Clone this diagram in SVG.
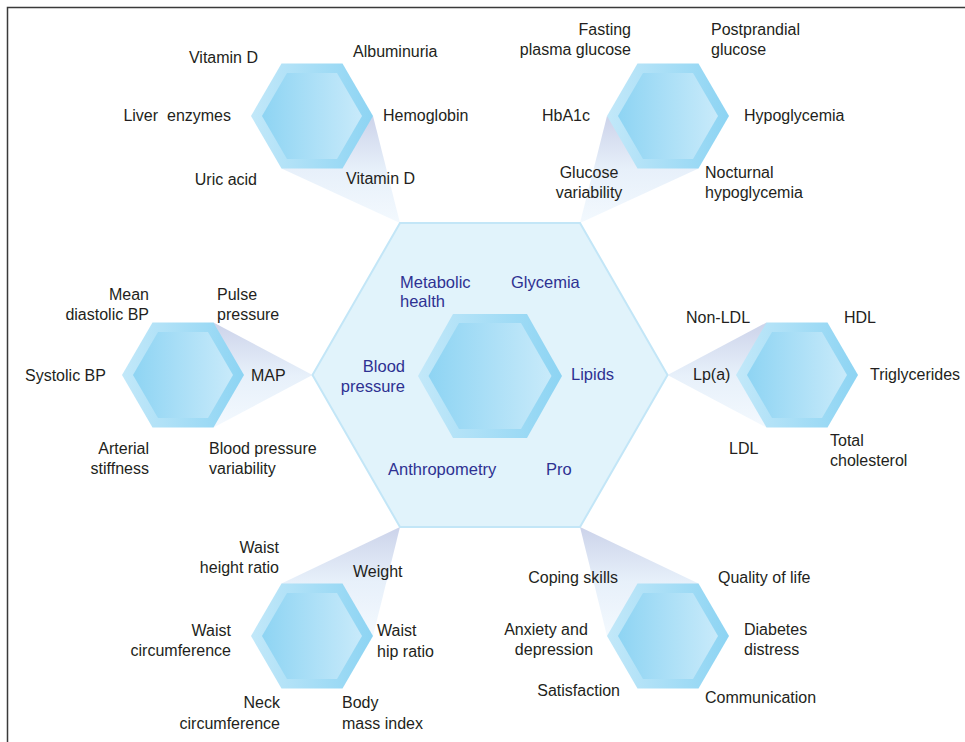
<svg xmlns="http://www.w3.org/2000/svg" xmlns:xlink="http://www.w3.org/1999/xlink" width="965" height="742" viewBox="0 0 965 742">
  <style>
    .lbl { font-family: "Liberation Sans", Arial, sans-serif; font-size: 16px; fill: #231f20; }
    .cat { font-family: "Liberation Sans", Arial, sans-serif; font-size: 16.5px; fill: #2e3192; }
    .end { text-anchor: end; }
    .mid { text-anchor: middle; }
    .ring { fill: url(#ringGrad); }
    .core { fill: url(#coreGrad); }
    .wedge { fill: url(#wedgeGrad); }
    .frame { fill: none; stroke: #3a3a3a; stroke-width: 1.5; }
  </style>
  <defs>
    <linearGradient id="ringGrad" x1="0" y1="0" x2="1" y2="0">
      <stop offset="0" stop-color="#c2e8f9"/>
      <stop offset="1" stop-color="#8dd4f3"/>
    </linearGradient>
    <linearGradient id="coreGrad" x1="0" y1="0" x2="1" y2="0">
      <stop offset="0" stop-color="#8ed4f3"/>
      <stop offset="1" stop-color="#c8eafa"/>
    </linearGradient>
    <linearGradient id="wedgeGrad" x1="0" y1="0" x2="0" y2="1">
      <stop offset="0" stop-color="#ccd3ea"/>
      <stop offset="0.5" stop-color="#e7f0fa"/>
      <stop offset="1" stop-color="#f3f9fe"/>
    </linearGradient>
    <!-- small two-tone hexagon, centred on the origin -->
    <g id="satHex">
      <polygon class="ring" points="-30.5,-52.5 30.5,-52.5 61,0 30.5,52.5 -30.5,52.5 -61,0"/>
      <polygon class="core" points="-25,-43 25,-43 50,0 25,43 -25,43 -50,0"/>
    </g>
  </defs>

  <rect width="965" height="742" fill="#ffffff"/>
  <path class="frame" d="M7.5,742 V7.5 H965"/>

  <!-- tapering links from each satellite to the central hexagon -->
  <g id="connectors">
    <polygon class="wedge" points="373,116 281.5,168.5 400,223"/>
    <polygon class="wedge" points="607,116 698.5,168.5 580,223"/>
    <polygon class="wedge" points="213.5,322.5 213.5,427.5 312.5,375"/>
    <polygon class="wedge" points="766.5,322.5 766.5,427.5 667.5,375"/>
    <polygon class="wedge" points="400,527 281.5,583.5 373,636"/>
    <polygon class="wedge" points="580,527 698.5,583.5 607,636"/>
  </g>

  <!-- central hexagon -->
  <g id="core">
    <polygon points="400,223 580,223 667.5,375 580,527 400,527 312.5,375" fill="#e1f3fb" stroke="#c3e6f7" stroke-width="2"/>
    <polygon class="ring" points="453,314 527,314 562,376 527,438 453,438 418,376"/>
    <polygon class="core" points="459,323 521,323 551.5,376 521,429 459,429 428.5,376"/>
    <text class="cat" x="400" y="288">Metabolic</text>
    <text class="cat" x="400" y="307">health</text>
    <text class="cat" x="511" y="288">Glycemia</text>
    <text class="cat end" x="405" y="372">Blood</text>
    <text class="cat end" x="405" y="392">pressure</text>
    <text class="cat" x="571" y="380">Lipids</text>
    <text class="cat" x="388" y="475">Anthropometry</text>
    <text class="cat" x="546" y="475">Pro</text>
  </g>

  <!-- metabolic health -->
  <g id="metabolic">
    <use xlink:href="#satHex" href="#satHex" transform="translate(312,116)"/>
    <text class="lbl end" x="258" y="63">Vitamin D</text>
    <text class="lbl" x="353" y="57">Albuminuria</text>
    <text class="lbl end" x="231" y="121" style="white-space:pre">Liver  enzymes</text>
    <text class="lbl" x="383" y="121">Hemoglobin</text>
    <text class="lbl end" x="257" y="185">Uric acid</text>
    <text class="lbl" x="346" y="184">Vitamin D</text>
  </g>

  <!-- glycemia -->
  <g id="glycemia">
    <use xlink:href="#satHex" href="#satHex" transform="translate(668,116)"/>
    <text class="lbl end" x="631" y="35">Fasting</text>
    <text class="lbl end" x="631" y="55">plasma glucose</text>
    <text class="lbl" x="711" y="35">Postprandial</text>
    <text class="lbl" x="711" y="55">glucose</text>
    <text class="lbl end" x="590" y="121">HbA1c</text>
    <text class="lbl" x="744" y="121">Hypoglycemia</text>
    <text class="lbl mid" x="589" y="178">Glucose</text>
    <text class="lbl mid" x="589" y="198">variability</text>
    <text class="lbl" x="705" y="178">Nocturnal</text>
    <text class="lbl" x="705" y="198">hypoglycemia</text>
  </g>

  <!-- blood pressure -->
  <g id="blood-pressure">
    <use xlink:href="#satHex" href="#satHex" transform="translate(183,375)"/>
    <text class="lbl end" x="149" y="300">Mean</text>
    <text class="lbl end" x="149" y="320">diastolic BP</text>
    <text class="lbl" x="217" y="300">Pulse</text>
    <text class="lbl" x="217" y="320">pressure</text>
    <text class="lbl" x="25" y="381">Systolic BP</text>
    <text class="lbl" x="251" y="381">MAP</text>
    <text class="lbl end" x="149" y="454">Arterial</text>
    <text class="lbl end" x="149" y="474">stiffness</text>
    <text class="lbl" x="209" y="454">Blood pressure</text>
    <text class="lbl" x="209" y="474">variability</text>
  </g>

  <!-- lipids -->
  <g id="lipids">
    <use xlink:href="#satHex" href="#satHex" transform="translate(797,375)"/>
    <text class="lbl" x="686" y="323">Non-LDL</text>
    <text class="lbl" x="844" y="323">HDL</text>
    <text class="lbl" x="693" y="380">Lp(a)</text>
    <text class="lbl" x="870" y="380">Triglycerides</text>
    <text class="lbl" x="729" y="454">LDL</text>
    <text class="lbl" x="830" y="446">Total</text>
    <text class="lbl" x="830" y="466">cholesterol</text>
  </g>

  <!-- anthropometry -->
  <g id="anthropometry">
    <use xlink:href="#satHex" href="#satHex" transform="translate(312,636)"/>
    <text class="lbl end" x="279" y="553">Waist</text>
    <text class="lbl end" x="279" y="573">height ratio</text>
    <text class="lbl" x="353" y="577">Weight</text>
    <text class="lbl end" x="231" y="636">Waist</text>
    <text class="lbl end" x="231" y="656">circumference</text>
    <text class="lbl" x="377" y="636">Waist</text>
    <text class="lbl" x="377" y="657">hip ratio</text>
    <text class="lbl end" x="280" y="708">Neck</text>
    <text class="lbl end" x="280" y="729">circumference</text>
    <text class="lbl" x="342" y="708">Body</text>
    <text class="lbl" x="342" y="729">mass index</text>
  </g>

  <!-- patient-reported outcomes -->
  <g id="pro">
    <use xlink:href="#satHex" href="#satHex" transform="translate(668,636)"/>
    <text class="lbl end" x="618" y="583">Coping skills</text>
    <text class="lbl" x="718" y="583">Quality of life</text>
    <text class="lbl mid" x="546" y="635">Anxiety and</text>
    <text class="lbl mid" x="554" y="655">depression</text>
    <text class="lbl" x="744" y="635">Diabetes</text>
    <text class="lbl" x="744" y="655">distress</text>
    <text class="lbl end" x="620" y="696">Satisfaction</text>
    <text class="lbl" x="705" y="703">Communication</text>
  </g>
</svg>
